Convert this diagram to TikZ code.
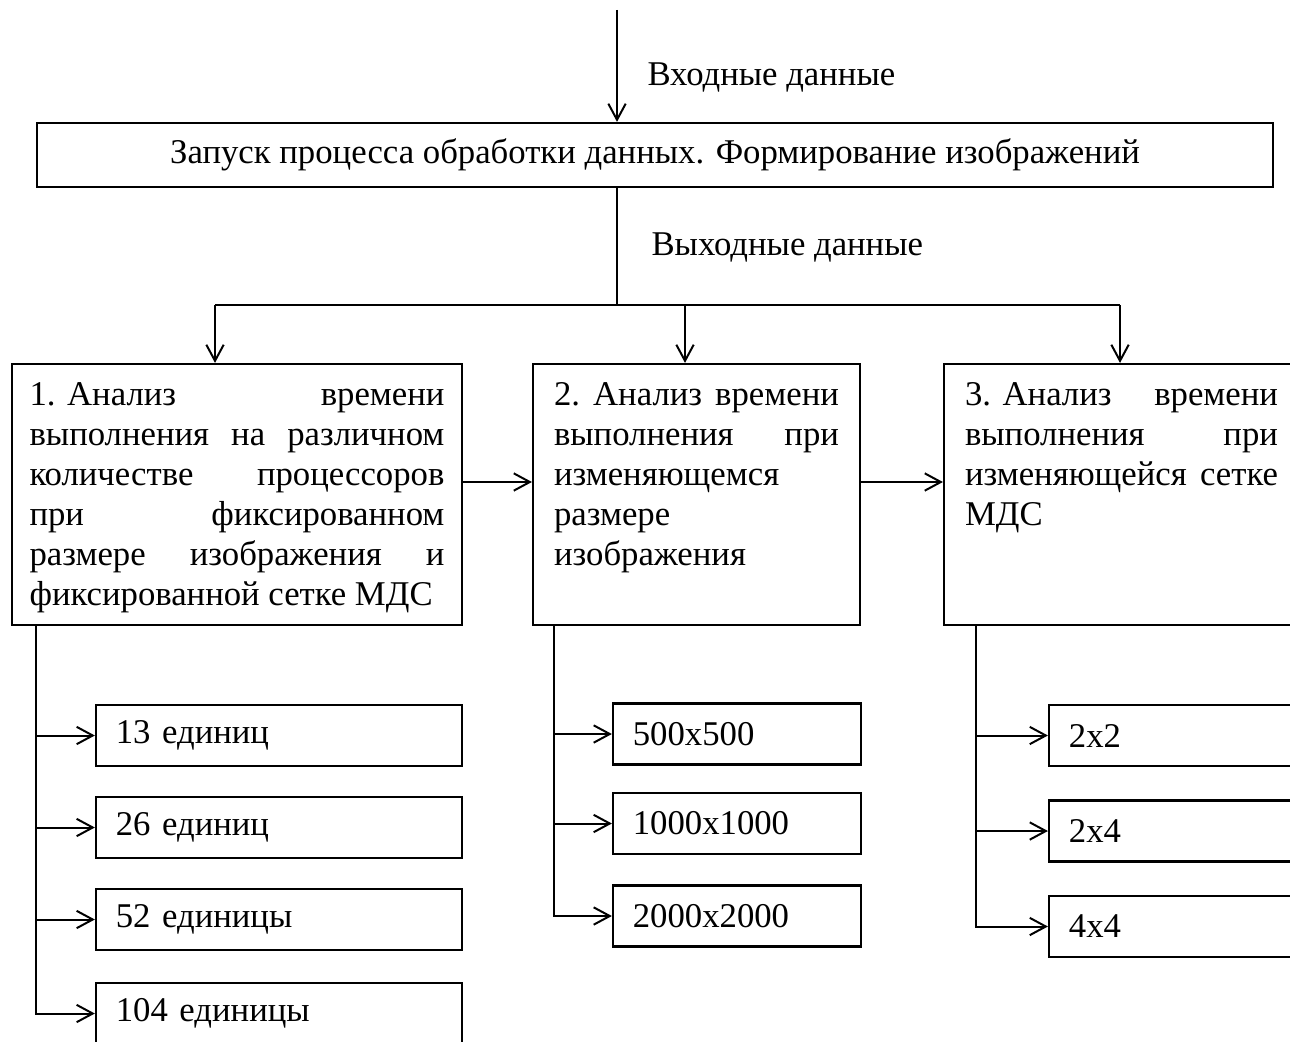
\documentclass[tikz,border=0pt]{standalone}
\usepackage{fontspec}
\setmainfont{Liberation Serif}
\usetikzlibrary{calc, positioning, arrows.meta}
\hyphenpenalty=10000
\newcommand{\boxtext}[2]{\parbox[c][90pt][t]{#1}{\hyphenpenalty=10000 #2}}

\tikzset{
  line/.style={line width=0.8pt},
  arr/.style={line, -{Straight Barb[length=6.5pt,width=7pt]}},
  bigbox/.style={draw, line width=0.9pt, inner xsep=7pt, inner ysep=7.4pt, minimum height=105.2pt},
  subbox/.style={draw, line width=0.9pt, minimum height=24.6pt, inner xsep=8pt, inner ysep=0pt, align=left}
}

\begin{document}
\begin{tikzpicture}[x=0.4032pt, y=-0.4032pt, font=\fontsize{14}{16.1}\selectfont]
  \clip (0,0) rectangle (1290,1041);

  % start block
  \node[draw, line width=0.9pt, minimum width=498.4pt, minimum height=25.8pt, inner sep=0pt] (start) at (655,155)
    {Запуск процесса обработки данных. Формирование изображений};
  \coordinate (in) at (617,10);
  \draw[arr] (in) -- (in |- start.north);
  \node[anchor=west, inner sep=0pt] (inlabel) at (647,77) {Входные данные};

  \coordinate (split) at (617,305);
  \draw[line] (start.south -| split) -- (split);
  \node[anchor=west, inner sep=0pt] (outlabel) at (651,247) {Выходные данные};

  % analysis blocks
  \node[bigbox, minimum width=181.4pt] (an1) at (237,494.5) {\boxtext{167.3pt}{%
    \mbox{1. Анализ}~времени\linebreak
    выполнения~на~различном\linebreak
    количестве~процессоров\linebreak
    при~фиксированном\linebreak
    размере~изображения~и\linebreak
    фиксированной~сетке~МДС}};
  \node[bigbox, minimum width=131.8pt] (an2) at (696.5,494.5) {\boxtext{114.9pt}{%
    2.~Анализ~времени\linebreak
    выполнения~при\linebreak
    изменяющемся\linebreak
    размере\linebreak
    изображения}};
  \node[bigbox, minimum width=143.1pt] (an3) at (1121.5,494.5) {\boxtext{126.2pt}{%
    \mbox{3. Анализ}~времени\linebreak
    выполнения~при\linebreak
    изменяющейся~сетке\linebreak
    МДС}};

  \coordinate (s1) at (215,305);
  \coordinate (s2) at (685,305);
  \coordinate (s3) at (1120,305);
  \draw[line] (s1) -- (s3);
  \draw[arr] (s1) -- (s1 |- an1.north);
  \draw[arr] (s2) -- (s2 |- an2.north);
  \draw[arr] (s3) -- (s3 |- an3.north);

  \coordinate (mid) at (0,482);
  \draw[arr] (an1.east |- mid) -- (an2.west |- mid);
  \draw[arr] (an2.east |- mid) -- (an3.west |- mid);

  % processors
  \node[subbox, text width=131.6pt] (p13) at (279,735.5) {13 единиц};
  \node[subbox, text width=131.6pt] (p26) at (279,827.5) {26 единиц};
  \node[subbox, text width=131.6pt] (p52) at (279,919.5) {52 единицы};
  \node[subbox, text width=131.6pt] (p104) at (279,1013.5) {104 единицы};
  % image sizes
  \node[subbox, text width=84pt] (s500) at (737,734) {500x500};
  \node[subbox, text width=84pt] (s1000) at (737,823.5) {1000x1000};
  \node[subbox, text width=84pt] (s2000) at (737,916) {2000x2000};
  % grids
  \node[subbox, text width=88.8pt] (g22) at (1179,735.5) {2x2};
  \node[subbox, text width=88.8pt] (g24) at (1179,831) {2x4};
  \node[subbox, text width=88.8pt] (g44) at (1179,926.5) {4x4};

  \coordinate (t1) at ($(an1.south west)+(25,0)$);
  \coordinate (t2) at ($(an2.south west)+(22,0)$);
  \coordinate (t3) at ($(an3.south west)+(33,0)$);
  \foreach \n in {p13,p26,p52,p104} \draw[arr] (t1) |- (\n.west);
  \foreach \n in {s500,s1000,s2000} \draw[arr] (t2) |- (\n.west);
  \foreach \n in {g22,g24,g44} \draw[arr] (t3) |- (\n.west);
\end{tikzpicture}
\end{document}
